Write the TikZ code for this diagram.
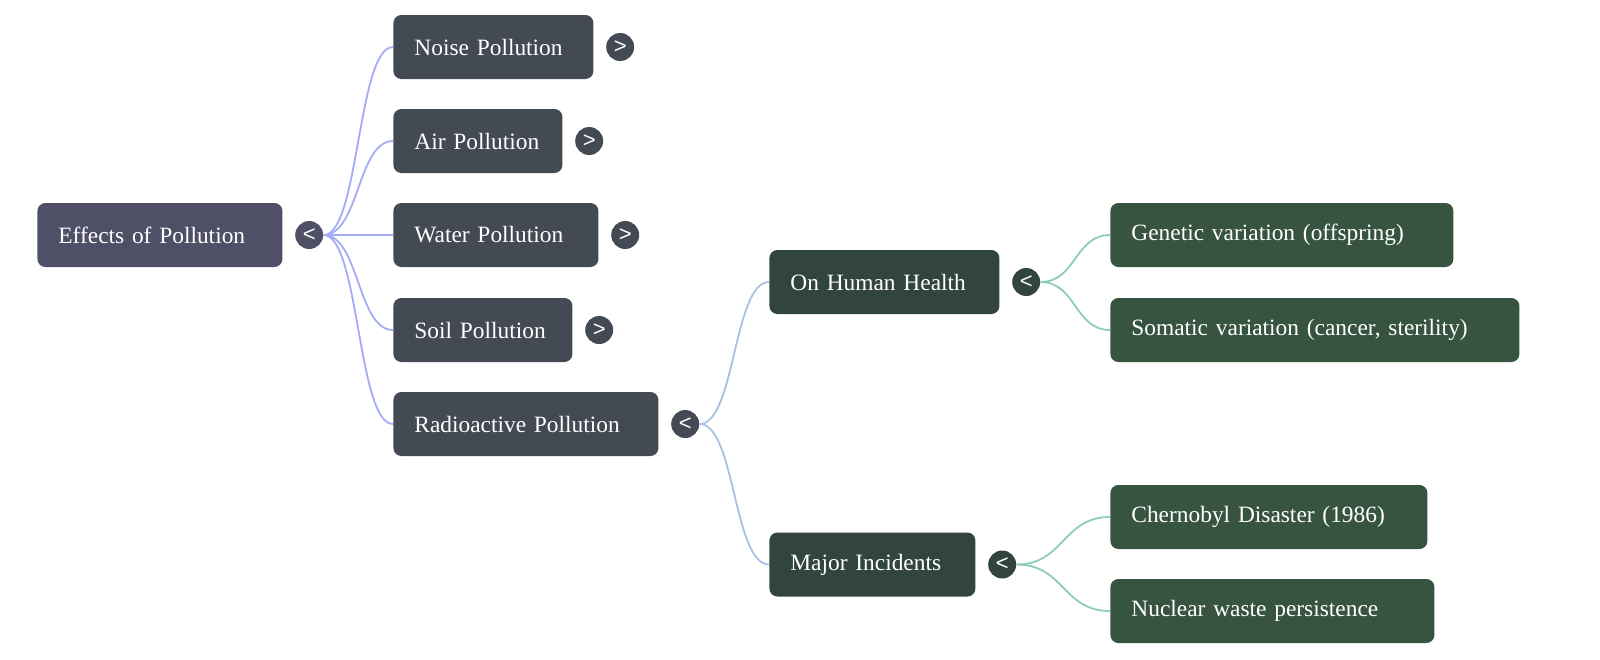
\documentclass[tikz,border=0pt]{standalone}
\usepackage{fontspec}
\setmainfont{Liberation Serif}[WordSpace=0.7]
\newfontfamily\badgefont{Liberation Sans}
\usepackage{xcolor}
\usepackage{tikz}
\usetikzlibrary{positioning}
\definecolor{rootfill}{HTML}{4F5066}
\definecolor{mainfill}{HTML}{434A54}
\definecolor{subfill}{HTML}{314440}
\definecolor{leaffill}{HTML}{375441}
\definecolor{mainlink}{HTML}{A3ACF5}
\definecolor{sublink}{HTML}{A9C0E0}
\definecolor{leaflink}{HTML}{8BCDB8}
\tikzset{link/.style = {line width=0.9pt}}

\begin{document}
\begin{tikzpicture}[x=0.5pt,y=-0.5pt,
        box/.style={rounded corners=4pt,text=white,anchor=west,align=left,inner xsep=10.5pt,inner ysep=0pt,minimum height=32pt,font=\fontsize{11.7}{14}\selectfont},
        badge/.style={circle,inner sep=0pt,minimum size=14pt,text=white,font=\badgefont\fontsize{11}{11}\selectfont}]
            \useasboundingbox (0,0) rectangle (1600,659);

            \node[box,fill=rootfill,text width=101.5pt] (root) at (37,235) {Effects of Pollution};

            \node[box,fill=mainfill,text width=79pt] (noise) at (393,47) {Noise Pollution};
            \node[box,fill=mainfill,text width=63.5pt] (air) at (393,141) {Air Pollution};
            \node[box,fill=mainfill,text width=81.5pt] (water) at (393,235) {Water Pollution};
            \node[box,fill=mainfill,text width=68.5pt] (soil) at (393,330) {Soil Pollution};
            \node[box,fill=mainfill,text width=111.5pt] (radio) at (393,424) {Radioactive Pollution};

            \node[box,fill=subfill,text width=94pt] (health) at (769,282) {On Human Health};
            \node[box,fill=subfill,text width=82pt] (incidents) at (769,564.5) {Major Incidents};

            \node[box,fill=leaffill,text width=150.5pt] (genetic) at (1110,235) {Genetic variation (offspring)};
            \node[box,fill=leaffill,text width=183.5pt] (somatic) at (1110,330) {Somatic variation (cancer, sterility)};
            \node[box,fill=leaffill,text width=137.5pt] (chernobyl) at (1110,517) {Chernobyl Disaster (1986)};
            \node[box,fill=leaffill,text width=141pt] (waste) at (1110,611) {Nuclear waste persistence};

            % toggles
            \node[badge,fill=rootfill,right=6pt of root] (rootb) {<};
            \foreach \n in {noise,air,water,soil}
                \node[badge,fill=mainfill,right=6pt of \n] (\n b) {>};
            \node[badge,fill=mainfill,right=6pt of radio] (radiob) {<};
            \node[badge,fill=subfill,right=6pt of health] (healthb) {<};
            \node[badge,fill=subfill,right=6pt of incidents] (incidentsb) {<};

            \foreach \n in {noise,air,water,soil,radio}
                \draw[link,mainlink] (rootb.east) .. controls +(35.5,0) and +(-35.5,0) .. (\n.west);
            \foreach \n in {health,incidents}
                \draw[link,sublink] (radiob.east) .. controls +(35.5,0) and +(-35.5,0) .. (\n.west);
            \foreach \n in {genetic,somatic}
                \draw[link,leaflink] (healthb.east) .. controls +(35.5,0) and +(-35.5,0) .. (\n.west);
            \foreach \n in {chernobyl,waste}
                \draw[link,leaflink] (incidentsb.east) .. controls +(47.5,0) and +(-47.5,0) .. (\n.west);
        \end{tikzpicture}
\end{document}
